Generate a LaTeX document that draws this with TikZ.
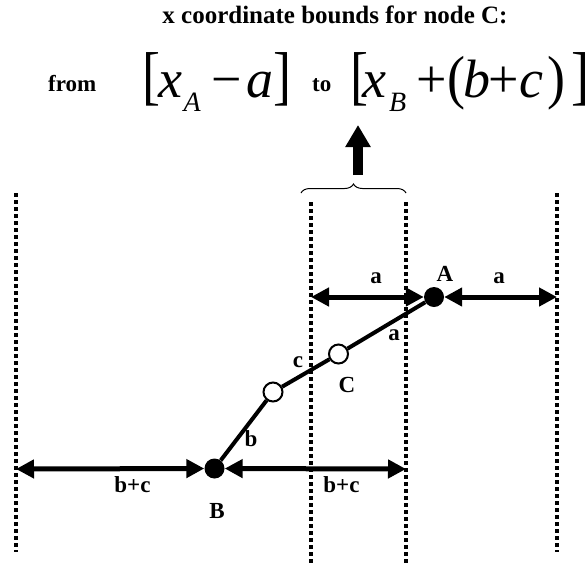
\documentclass[tikz,border=0pt]{standalone}
\usepackage{fontspec}
\setmainfont{Liberation Serif}
\usetikzlibrary{arrows.meta,decorations.pathreplacing}
\begin{document}
\begin{tikzpicture}[x=1pt,y=-1pt,
  dotline/.style={line width=4.5pt,dash pattern=on 4pt off 3pt},
  dimline/.style={line width=5pt,{Triangle[length=18pt,width=18pt]}-{Triangle[length=18pt,width=18pt]}},
  link/.style={line width=4pt},
  fdot/.style={circle,fill=black,inner sep=0pt,minimum size=20pt},
  odot/.style={circle,draw=black,fill=white,line width=2pt,inner sep=0pt,minimum size=19pt},
  lbl/.style={font=\fontsize{23}{23}\selectfont\bfseries,inner sep=0pt},
  mth/.style={font=\fontsize{54}{54}\selectfont\itshape,inner sep=0pt,anchor=base west},
  mrm/.style={font=\fontsize{54}{54}\selectfont,inner sep=0pt,anchor=base west},
  msub/.style={font=\fontsize{28}{28}\selectfont\itshape,inner sep=0pt,anchor=base west}]
\useasboundingbox (0,0) rectangle (588,563);
% title and formula
\node[font=\fontsize{25}{25}\selectfont\bfseries,inner sep=0pt,anchor=base] (title) at (335,23) {x coordinate bounds for node C:};
\node[font=\fontsize{23}{23}\selectfont\bfseries,inner sep=0pt,anchor=base west] (from) at (48,91) {from};
\node[font=\fontsize{23}{23}\selectfont\bfseries,inner sep=0pt,anchor=base west] (to) at (312,91) {to};
\node[mrm] (l1) at (142.2,97) {\makebox[15pt][l]{\scalebox{1}[1.2]{[}}};
\node[mth] (l2) at (158.6,97) {x};
\node[msub] (l3) at (183.5,111) {A};
\node[mrm] (l4) at (211.4,97) {−};
\node[mth] (l5) at (246.1,97) {a};
\node[mrm] (l6) at (272.8,97) {\makebox[14pt][l]{\scalebox{1}[1.2]{]}}};
\node[mrm] (r1) at (350.5,97) {\makebox[9pt][l]{\scalebox{1}[1.2]{[}}};
\node[mth] (r2) at (362,97) {x};
\node[msub] (r3) at (389,111) {B};
\node[mrm] (r4) at (416,97) {+};
\node[mrm] (r5) at (447,97) {\makebox[14pt][l]{\scalebox{1}[1.1]{(}}};
\node[mth] (r6) at (463.5,97) {b};
\node[mrm] (r7) at (488,97) {+};
\node[mth] (r8) at (519,97) {c};
\node[mrm] (r9) at (547,97) {\makebox[16pt][l]{\scalebox{1}[1.1]{)}}};
\node[mrm] (r10) at (571.5,97) {\makebox[13pt][l]{\scalebox{1}[1.2]{]}}};
% up arrow and brace
\coordinate (upb) at (358,175);
\coordinate (upt) at (358,125);
\draw[line width=10pt,-{Triangle[length=22pt,width=24pt]}] (upb) -- (upt);
\coordinate (br1) at (301,193);
\coordinate (br2) at (406,193);
\draw[decorate,decoration={brace,amplitude=9pt},line width=1pt] (br1) -- (br2);
% dotted lines
\coordinate (v1t) at (16,193); \coordinate (v1b) at (16,552);
\coordinate (v2t) at (311,202); \coordinate (v2b) at (311,563);
\coordinate (v3t) at (406,202); \coordinate (v3b) at (406,563);
\coordinate (v4t) at (557,193); \coordinate (v4b) at (557,552);
\draw[dotline] (v1t) -- (v1b);
\draw[dotline] (v2t) -- (v2b);
\draw[dotline] (v3t) -- (v3b);
\draw[dotline] (v4t) -- (v4b);
% nodes
\node[fdot] (A) at (434,297) {};
\node[fdot] (B) at (214.5,468.5) {};
\node[odot] (O1) at (273,392) {};
\node[odot] (O2) at (338.5,354) {};
% links
\draw[link] (B) -- (O1);
\draw[link] (O1) -- (O2);
\draw[link] (O2) -- (A);
% dimension arrows
\coordinate (aL) at (311,297);
\coordinate (aR) at (557,297);
\coordinate (bL) at (16,469);
\coordinate (bR) at (406,469);
\draw[dimline] (aL) -- (A);
\draw[dimline] (A) -- (aR);
\draw[dimline] (bL) -- (B);
\draw[dimline] (B) -- (bR);
% labels
\node[lbl] (la1) at (376,278) {a};
\node[lbl] (la2) at (499,278) {a};
\node[lbl] (lA) at (445,274) {A};
\node[lbl] (la3) at (394,335) {a};
\node[lbl] (lc) at (298,362) {c};
\node[lbl] (lC) at (347,385) {C};
\node[lbl] (lb) at (251,439) {b};
\node[lbl] (lbc1) at (132.5,485) {b+c};
\node[lbl] (lbc2) at (341.5,485) {b+c};
\node[lbl] (lB) at (217,511) {B};
\end{tikzpicture}
\end{document}
